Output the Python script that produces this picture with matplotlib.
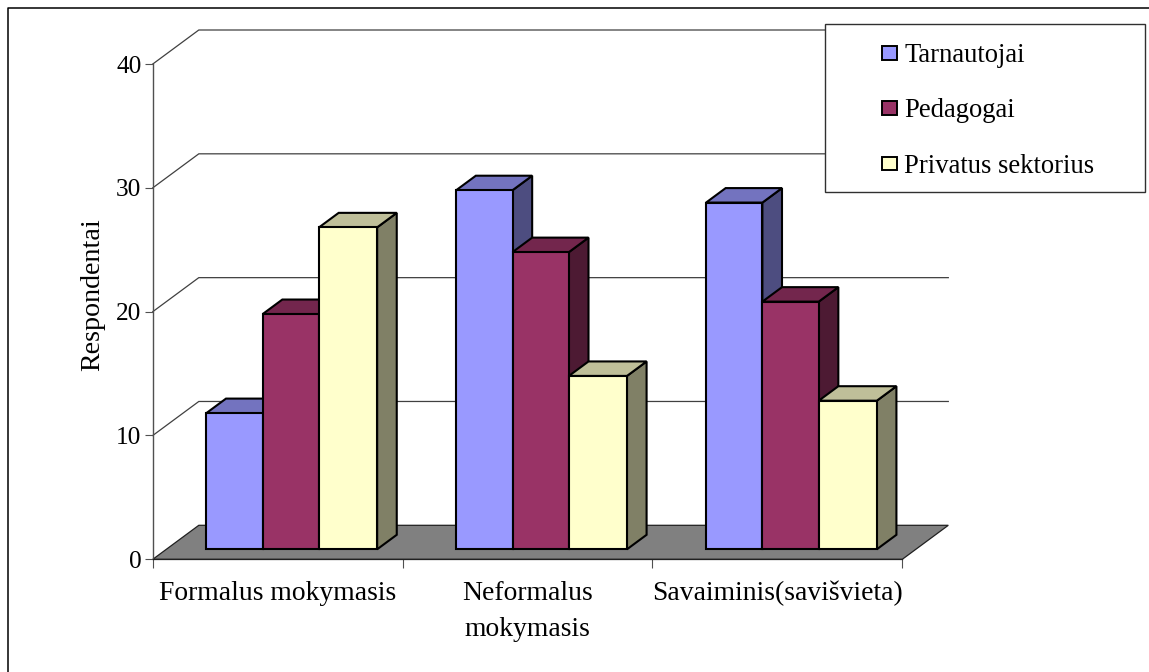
import matplotlib
matplotlib.use("Agg")
import matplotlib.pyplot as plt
import numpy as np
from matplotlib.lines import Line2D
from matplotlib.patches import Patch, Polygon, Rectangle
from matplotlib.legend_handler import HandlerPatch

categories = ["Formalus mokymasis", "Neformalus\nmokymasis", "Savaiminis(savišvieta)"]
series_names = ["Tarnautojai", "Pedagogai", "Privatus sektorius"]
tarnautojai = [11, 29, 28]
pedagogai = [19, 24, 20]
privatus = [26, 14, 12]
y_ticks = [0, 10, 20, 30, 40]
y_label = "Respondentai"

front_colors = ["#9999FF", "#993366", "#FFFFCC"]
top_colors = ["#7373BF", "#73264D", "#BFBF99"]
side_colors = ["#4D4D80", "#4D1A33", "#808066"]

W, H = 1149, 672
plt.rcParams["font.family"] = ["Liberation Serif", "DejaVu Serif"]
FS_TICK = 18.3
FS_CAT = 19.9
FS_LEG = 19.2
FS_YLAB = 20.2
fig = plt.figure(figsize=(W / 100, H / 100), dpi=100)

L, R, T, B = 152.8, 902.3, 64.0, 559.3
ax = fig.add_axes([L / W, 1 - B / H, (R - L) / W, (B - T) / H])
ax.set_xlim(0, 3)
ax.set_ylim(0, 40)
ax.patch.set_visible(False)
for s in ("top", "right", "bottom"):
    ax.spines[s].set_visible(False)
ax.spines["left"].set_color("#505050")
ax.spines["left"].set_linewidth(1.0)

# oblique projection: depth 0..1 shifts right and up, expressed in data units
DX = 46.0 / ((R - L) / 3)
DY = 34.0 / ((B - T) / 40)


def proj(x, y, z):
    return (x + z * DX, y + z * DY)


# floor
ax.add_patch(Polygon([proj(0, 0, 0), proj(3, 0, 0), proj(3, 0, 1), proj(0, 0, 1)],
                     facecolor="#808080", edgecolor="#202020", lw=0.9, zorder=1, clip_on=False))
# gridlines: wall + diagonal
for v in y_ticks[1:]:
    xs, ys = zip(proj(0, v, 0), proj(0, v, 1), proj(3, v, 1))
    ax.plot(xs, ys, color="#404040", lw=0.9, zorder=1, clip_on=False, solid_joinstyle="miter")

# bars
series = [tarnautojai, pedagogai, privatus]
bar_w = [0.2255, 0.2255, 0.2325]
start = 0.1603
Z0, Z1 = 10 / 34, 24.5 / 34
for c in range(len(categories)):
    left = c + start
    for s, vals in enumerate(series):
        v = vals[c]
        w = bar_w[s]
        x0, x1 = left, left + w
        side = [proj(x1, 0, Z0), proj(x1, 0, Z1), proj(x1, v, Z1), proj(x1, v, Z0)]
        top = [proj(x0, v, Z0), proj(x1, v, Z0), proj(x1, v, Z1), proj(x0, v, Z1)]
        front = [proj(x0, 0, Z0), proj(x1, 0, Z0), proj(x1, v, Z0), proj(x0, v, Z0)]
        kw = dict(edgecolor="black", lw=1.5, joinstyle="miter", zorder=3 + s, clip_on=False)
        ax.add_patch(Polygon(side, facecolor=side_colors[s], **kw))
        ax.add_patch(Polygon(top, facecolor=top_colors[s], **kw))
        ax.add_patch(Polygon(front, facecolor=front_colors[s], **kw))
        left += w

# axes ticks and labels
ax.set_yticks(y_ticks)
ax.tick_params(axis="y", length=8.5 * 0.72, width=0.8, color="#505050", labelsize=FS_TICK, pad=2.0)
for lab in ax.get_yticklabels():
    lab.set_y(lab.get_position()[1])
ax.set_xticks([0, 1, 2, 3])
ax.set_xticklabels([])
ax.tick_params(axis="x", length=9 * 0.72, width=0.8, color="#505050")
ax.spines["bottom"].set_visible(True)
ax.spines["bottom"].set_color("#202020")
ax.spines["bottom"].set_linewidth(0.9)
for i, cat in enumerate(categories):
    ax.annotate(cat, xy=(i + 0.5, 0), xycoords=("data", "axes fraction"),
                xytext=(0, -15.5), textcoords="offset points", ha="center", va="top",
                fontsize=FS_CAT, linespacing=1.6)
fig.text(92.5 / W, 1 - 295 / H, y_label, rotation=90, ha="center", va="center", fontsize=FS_YLAB)

# outer chart frame (left and top edges only reach the image)
fig.add_artist(Line2D([8 / W, 8 / W, 1.0], [0.0, 1 - 8 / H, 1 - 8 / H],
                      color="black", lw=1.1, transform=fig.transFigure))

# legend box
fig.add_artist(Rectangle((824.7 / W, 1 - 192.3 / H), 320.3 / W, 168 / H, facecolor="white",
                         edgecolor="#303030", lw=1.0, transform=fig.transFigure, zorder=8))


class SquareHandler(HandlerPatch):
    def create_artists(self, legend, orig, xd, yd, width, height, fontsize, trans):
        p = Rectangle((xd * -1, -yd + (height - 10.0) / 2), 10.5, 10.0, facecolor=orig.get_facecolor(),
                      edgecolor="black", lw=1.4, transform=trans)
        return [p]


handles = [Patch(facecolor=c, label=n) for c, n in zip(front_colors, series_names)]
leg = fig.legend(handles=handles, loc="upper left", bbox_to_anchor=(882.3 / W, 1 - 43 / H),
                 frameon=False, fontsize=FS_LEG, borderpad=0, borderaxespad=0, labelspacing=1.14,
                 handlelength=0.55, handletextpad=0.28, handler_map={Patch: SquareHandler()})
leg.set_zorder(9)

fig.savefig("out.png", dpi=100, facecolor="white")
